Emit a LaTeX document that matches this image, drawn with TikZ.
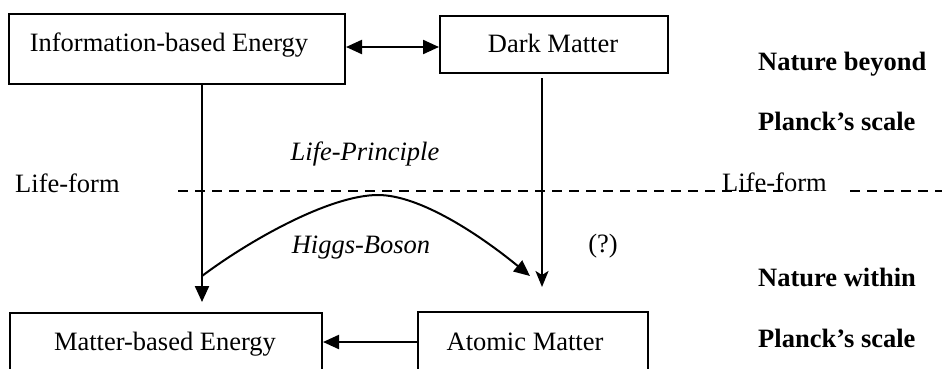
\documentclass[tikz,border=0pt]{standalone}
\usepackage{fontspec}
\setmainfont{Liberation Serif}
\usetikzlibrary{arrows.meta,calc}
\begin{document}
\begin{tikzpicture}[x=1pt,y=-1pt,
  txt/.style={font=\fontsize{26.5}{31}\selectfont, inner sep=0pt},
  box/.style={draw, line width=2pt, inner sep=0pt},
  arr/.style={line width=2.2pt, -{Triangle[length=16pt,width=14pt]}},
  dbl/.style={line width=2.2pt, {Triangle[length=16pt,width=14pt]}-{Triangle[length=16pt,width=14pt]}},
  thinarr/.style={line width=2pt, -{Stealth[length=16pt,width=13pt,inset=4pt]}},
  dashline/.style={line width=2pt, dash pattern=on 10pt off 7pt}]
\useasboundingbox (0,0) rectangle (942,368);
% boxes
\node[box, minimum width=336pt, minimum height=70pt] (ibe) at (177,49) {};
\node[box, minimum width=228pt, minimum height=57pt] (dm) at (554,44.5) {};
\node[box, minimum width=312pt, minimum height=70pt] (mbe) at (166,348) {};
\node[box, minimum width=230pt, minimum height=70pt] (am) at (533,347) {};
% box texts
\node[txt, anchor=base] (ibet) at (169,51) {Information-based Energy};
\node[txt, anchor=base] (dmt) at (553,52) {Dark Matter};
\node[txt, anchor=base] (mbet) at (165,350) {Matter-based Energy};
\node[txt, anchor=base] (amt) at (525,350) {Atomic Matter};
% other texts
\node[txt, anchor=base west] (lf1) at (15,192) {Life-form};
\node[txt, anchor=base west] (lf2) at (722,191) {Life-form};
\node[txt, anchor=base, font=\fontsize{26.5}{31}\selectfont\itshape] (lp) at (365,160) {Life-Principle};
\node[txt, anchor=base, font=\fontsize{26.5}{31}\selectfont\itshape] (hb) at (361,253) {Higgs-Boson};
\node[txt, anchor=base] (q) at (603,252) {(?)};
\node[txt, anchor=base west, font=\fontsize{26.5}{31}\selectfont\bfseries] (nb) at (758,70) {Nature beyond};
\node[txt, anchor=base west, font=\fontsize{26.5}{31}\selectfont\bfseries] (ps1) at (758,130) {Planck’s scale};
\node[txt, anchor=base west, font=\fontsize{26.5}{31}\selectfont\bfseries] (nw) at (758,286) {Nature within};
\node[txt, anchor=base west, font=\fontsize{26.5}{31}\selectfont\bfseries] (ps2) at (758,347) {Planck’s scale};
% coordinates
\coordinate (mbeTop) at (202,302);
\coordinate (amTop) at (542,287);
\coordinate (hs) at (202,276);
\coordinate (hpk) at (378,195);
\coordinate (he) at (530,276);
\coordinate (d1) at (178,191);
\coordinate (d2) at (787,191);
\coordinate (d3) at (850,191);
\coordinate (d4) at (944,191);
% dashed life-form line
\draw[dashline] (d1) -- (d2);
\draw[dashline] (d3) -- (d4);
% connectors
\draw[dbl] ([yshift=-2.5pt]dm.west -| ibe.east) -- ([yshift=-2.5pt]dm.west);
\draw[arr] (ibe.south -| mbeTop) -- (mbeTop);
\draw[thinarr] ([yshift=-4pt]dm.south -| amTop) -- (amTop);
\draw[line width=2pt, -{Triangle[length=16pt,width=14pt]}] (hs) .. controls (250,240) and (330,195) .. (hpk) .. controls (420,195) and (480,235) .. (he);
\draw[arr] ([yshift=5pt]am.west) -- ([yshift=5pt]am.west -| mbe.east);
\end{tikzpicture}
\end{document}
